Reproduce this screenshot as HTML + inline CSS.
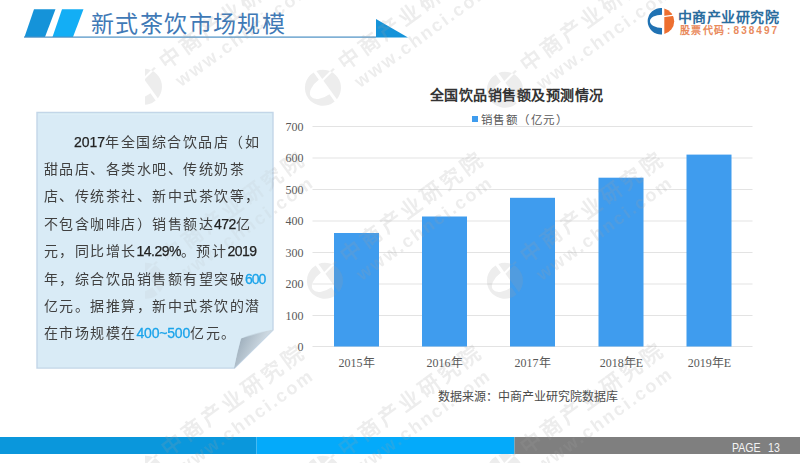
<!DOCTYPE html>
<html lang="zh-CN">
<head>
<meta charset="utf-8">
<style>
html,body{margin:0;padding:0;}
body{width:800px;height:463px;position:relative;overflow:hidden;background:#fff;font-family:"Liberation Sans",sans-serif;}
.abs{position:absolute;}
#title{left:91px;top:10px;font-family:"Liberation Serif",serif;font-size:23px;color:#4079b6;letter-spacing:1.4px;white-space:nowrap;line-height:30px;}
#logo1{left:677.5px;top:7.5px;font-size:14px;font-weight:bold;color:#2b6d9e;white-space:nowrap;line-height:18px;letter-spacing:0.6px;}
#logo2{left:679.5px;top:23.5px;font-size:10px;font-weight:bold;color:#e98a5c;white-space:nowrap;line-height:14px;letter-spacing:1.5px;}
#box{left:0;top:0;}
.tl{position:absolute;font-size:14px;letter-spacing:1.5px;line-height:20px;color:#404040;white-space:nowrap;transform-origin:0 50%;}
.tl .b{color:#1aa0e6;}
.tl .n{letter-spacing:-0.5px;color:#222;-webkit-text-stroke:0.25px #222;}
.tl .b .n{color:#1aa3ea;-webkit-text-stroke:0.3px #1aa3ea;}
#ctitle{left:429.5px;top:86px;font-size:14px;font-weight:bold;color:#333;white-space:nowrap;line-height:18px;letter-spacing:0.5px;}
#legend{left:480.5px;top:111.5px;font-size:11.5px;color:#595959;white-space:nowrap;line-height:16px;letter-spacing:1.5px;}
#legsq{left:472px;top:116px;width:6px;height:6px;background:#3f9cee;}
.yl{position:absolute;right:496.5px;font-family:"Liberation Serif",serif;font-size:12px;color:#595959;line-height:14px;text-align:right;}
.xl{position:absolute;width:88px;text-align:center;font-family:"Liberation Serif",serif;font-size:12px;color:#595959;line-height:14px;top:355.5px;}
#src{left:438px;top:388.5px;font-size:12px;color:#4a4a4a;white-space:nowrap;line-height:16px;}
#page,#page2{top:440px;font-size:12.6px;color:#f4f4f4;line-height:16px;white-space:nowrap;transform:scaleX(0.84);transform-origin:0 50%;}
#page2{left:767.5px;}
</style>
</head>
<body>
<svg class="abs" style="left:0;top:0" width="800" height="463">
  <!-- header -->
  <polygon points="34,9.3 55.5,9.3 45,37 24.5,37" fill="#1593d9"/>
  <polygon points="62,9.3 83.5,9.3 73,37 52.5,37" fill="#13aef5"/>
  <rect x="24" y="36.5" width="352" height="1.2" fill="#4a8fc4"/>
  <polygon points="376,19 376,37.5 408,37.5" fill="#1593d9"/>
  <!-- logo -->
  <path d="M662,8.1 A13.2,13.2 0 1 0 662,34.4 L662,27.9 A12,6.6 0 0 1 662,14.65 Z" fill="#2072b3"/>
  <path d="M664.3,8.47 A13.2,13.2 0 0 1 664.3,34.03 Z" fill="#ed6f30"/>
  <line x1="663" y1="16.6" x2="676" y2="14.9" stroke="#fff" stroke-width="1.1"/>
  <!-- text box -->
  <path d="M37,112.5 L273,112.5 L273,330 L234.5,368 L37,368 Z" fill="#d9ebf5" stroke="#c3d6e8" stroke-width="1.4"/>
  <path d="M38.8,114.3 L271.2,114.3" stroke="#e6f3fa" stroke-width="1" fill="none"/>
  <defs>
    <linearGradient id="fold" gradientUnits="userSpaceOnUse" x1="240" y1="343" x2="258" y2="352">
      <stop offset="0" stop-color="#a3b3c0"/>
      <stop offset="1" stop-color="#ccd8e1"/>
    </linearGradient>
  </defs>
  <path d="M273.5,329.5 Q252,333 241,338.5 Q237,352 234,368.5 Z" fill="url(#fold)"/>
  <!-- chart grid -->
  <g fill="#e3e3e3">
    <rect x="312.5" y="126" width="440" height="1"/>
    <rect x="312.5" y="157.5" width="440" height="1"/>
    <rect x="312.5" y="189" width="440" height="1"/>
    <rect x="312.5" y="220.5" width="440" height="1"/>
    <rect x="312.5" y="252" width="440" height="1"/>
    <rect x="312.5" y="283.5" width="440" height="1"/>
    <rect x="312.5" y="315" width="440" height="1"/>
    <rect x="312.5" y="346" width="440" height="1"/>
  </g>
  <g fill="#3f9cee">
    <rect x="334" y="233" width="45" height="113.5"/>
    <rect x="422" y="216.5" width="45" height="130"/>
    <rect x="510" y="197.8" width="45" height="148.7"/>
    <rect x="598.5" y="177.7" width="45" height="168.8"/>
    <rect x="686.5" y="154.6" width="45" height="191.9"/>
  </g>
  <!-- footer -->
  <rect x="0" y="437" width="256.5" height="17" fill="#0a97dc"/>
  <rect x="256.5" y="437" width="258" height="17" fill="#04aafa"/>
  <rect x="514.5" y="437" width="285.5" height="17" fill="#7f7f7f"/>
</svg>
<div id="title" class="abs">新式茶饮市场规模</div>
<div id="logo1" class="abs">中商产业研究院</div>
<div id="logo2" class="abs">股票代码<span style="letter-spacing:2.2px;margin-left:1.5px">:</span><span style="letter-spacing:2.05px;margin-left:1px">838497</span></div>
<div id="ctitle" class="abs">全国饮品销售额及预测情况</div>
<div id="legsq" class="abs"></div>
<div id="legend" class="abs">销售额（亿元）</div>
<div class="yl" style="top:120px">700</div>
<div class="yl" style="top:151px">600</div>
<div class="yl" style="top:183px">500</div>
<div class="yl" style="top:214px">400</div>
<div class="yl" style="top:246px">300</div>
<div class="yl" style="top:277px">200</div>
<div class="yl" style="top:309px">100</div>
<div class="yl" style="top:340px">0</div>
<div class="xl" style="left:312.5px">2015年</div>
<div class="xl" style="left:400.5px">2016年</div>
<div class="xl" style="left:488.5px">2017年</div>
<div class="xl" style="left:577.5px">2018年E</div>
<div class="xl" style="left:665.5px">2019年E</div>
<div id="src" class="abs">数据来源：中商产业研究院数据库</div>
<div id="page" class="abs" style="left:731.5px">PAGE</div><div id="page2" class="abs">13</div>
<svg class="abs" style="left:0;top:0;pointer-events:none" width="800" height="463">
  <defs>
    <g id="wmu">
      <g transform="translate(-38.5,8.8) scale(1.36) translate(-661,-21.25)">
        <path d="M662,8.1 A13.2,13.2 0 1 0 662,34.4 L662,27.9 A12,6.6 0 0 1 662,14.65 Z"/>
        <path d="M664.3,8.47 A13.2,13.2 0 0 1 664.3,34.03 L664.3,17.2 L676,15.4 L675.5,13.8 L664.3,15.8 Z"/>
      </g>
      <text x="-11" y="7.5" font-size="21" font-weight="bold" letter-spacing="3.8" font-family="Liberation Sans, sans-serif">中商产业研究院</text>
      <text x="-9" y="31" font-size="18" font-weight="bold" letter-spacing="2.2" font-family="Liberation Sans, sans-serif">www.chnci.com</text>
    </g>
    <clipPath id="wmclip"><rect x="145" y="0" width="655" height="463"/></clipPath>
  </defs>
  <g fill="#a0a0a0" opacity="0.19" clip-path="url(#wmclip)">
    <use href="#wmu" transform="translate(170,57) rotate(-36)"/>
    <use href="#wmu" transform="translate(349,58) rotate(-36)"/>
    <use href="#wmu" transform="translate(531,60) rotate(-36)"/>
    <use href="#wmu" transform="translate(172,251) rotate(-36)"/>
    <use href="#wmu" transform="translate(351,251) rotate(-36)"/>
    <use href="#wmu" transform="translate(531,251) rotate(-36)"/>
    <use href="#wmu" transform="translate(172,444) rotate(-36)"/>
    <use href="#wmu" transform="translate(349,444) rotate(-36)"/>
    <use href="#wmu" transform="translate(531,442) rotate(-36)"/>
  </g>
</svg>
<svg class="abs" style="left:0;top:0" width="800" height="463">
  <path d="M38,113.5 L272,113.5 L272,329.5 L241,338.5 L234,367.5 L38,367.5 Z" fill="#d9ebf5" opacity="0.55"/>
</svg>
<div class="tl" id="l1" style="left:74px;top:131.5px"><span class="n" style="letter-spacing:0px">2017</span>年全国综合饮品店（如</div>
<div class="tl" id="l2" style="left:43.5px;top:158.9px">甜品店、各类水吧、传统奶茶</div>
<div class="tl" id="l3" style="left:43.5px;top:186.3px">店、传统茶社、新中式茶饮等，</div>
<div class="tl" id="l4" style="left:43.5px;top:213.7px">不包含咖啡店）销售额达<span class="n">472</span>亿</div>
<div class="tl" id="l5" style="left:43.5px;top:241.1px">元，同比增长<span class="n">14.29%</span>。预计<span class="n">2019</span></div>
<div class="tl" id="l6" style="left:43.5px;top:268.5px">年，综合饮品销售额有望突破<span class="b"><span class="n" style="letter-spacing:-1px">600</span></span></div>
<div class="tl" id="l7" style="left:43.5px;top:295.9px">亿元。据推算，新中式茶饮的潜</div>
<div class="tl" id="l8" style="left:43.5px;top:323.3px">在市场规模在<span class="b"><span class="n" style="letter-spacing:-0.2px">400~500</span></span>亿元。</div>
</body>
</html>
